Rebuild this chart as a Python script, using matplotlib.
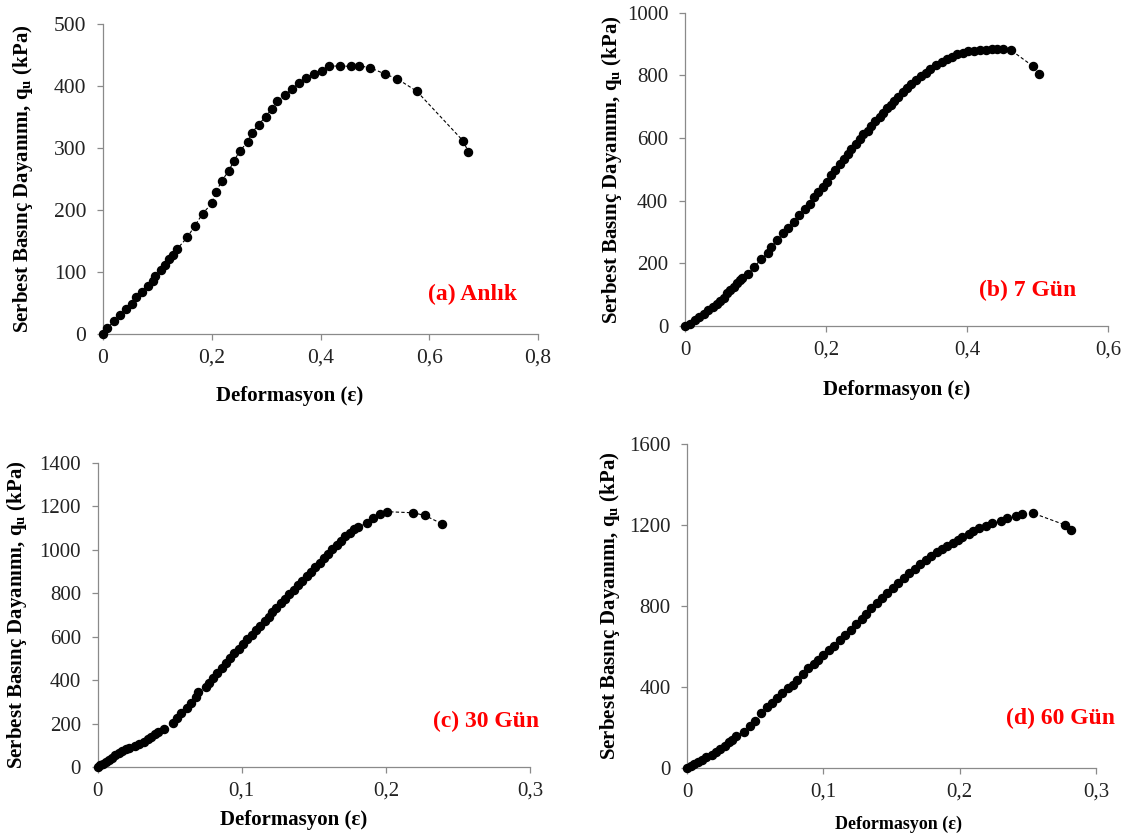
import numpy as np
import matplotlib.pyplot as plt
from matplotlib.ticker import FuncFormatter, MultipleLocator

plt.rcParams['font.family'] = ['Liberation Serif', 'DejaVu Serif']
plt.rcParams['mathtext.fontset'] = 'custom'
plt.rcParams['mathtext.rm'] = 'Liberation Serif'
plt.rcParams['mathtext.bf'] = 'Liberation Serif:bold'

# (a) Anlık
eps_a = [0, 0.008, 0.021, 0.032, 0.042, 0.053, 0.061, 0.071, 0.082, 0.091, 0.096,
         0.107, 0.114, 0.122, 0.129, 0.136, 0.155, 0.169, 0.183, 0.200, 0.208,
         0.218, 0.231, 0.241, 0.252, 0.266, 0.274, 0.286, 0.299, 0.310, 0.320,
         0.335, 0.348, 0.360, 0.374, 0.388, 0.402, 0.415, 0.435, 0.456, 0.471,
         0.491, 0.518, 0.541, 0.577, 0.662, 0.672]
qu_a = [0, 10, 21, 31, 40, 49, 59, 68, 78, 86, 94,
        104, 112, 121, 128, 137, 156, 175, 194, 211, 229,
        247, 263, 280, 296, 310, 325, 338, 351, 363, 376,
        386, 396, 406, 413, 420, 425, 432, 433, 432, 433,
        430, 420, 412, 392, 312, 294]

# (b) 7 Gün
eps_b = [0, 0.0066, 0.014, 0.020, 0.027, 0.033, 0.040, 0.045, 0.050, 0.055, 0.060,
         0.064, 0.069, 0.074, 0.078, 0.081, 0.090, 0.098, 0.108, 0.117, 0.122,
         0.131, 0.139, 0.146, 0.154, 0.161, 0.170, 0.177, 0.183, 0.189, 0.196,
         0.201, 0.207, 0.213, 0.220, 0.226, 0.231, 0.236, 0.242, 0.248, 0.253,
         0.259, 0.264, 0.270, 0.276, 0.281, 0.286, 0.292, 0.297, 0.302, 0.309,
         0.315, 0.321, 0.328, 0.335, 0.342, 0.348, 0.356, 0.364, 0.371, 0.379,
         0.386, 0.394, 0.402, 0.410, 0.418, 0.427, 0.435, 0.442, 0.451, 0.462,
         0.493, 0.502]
qu_b = [0, 8, 19, 30, 40, 51, 62, 70, 81, 90, 104,
        115, 126, 136, 147, 152, 166, 189, 213, 232, 253,
        274, 296, 312, 333, 354, 372, 391, 411, 429, 445,
        461, 482, 498, 516, 532, 549, 565, 581, 596, 612,
        623, 638, 653, 666, 679, 695, 705, 719, 732, 748,
        761, 774, 785, 798, 809, 819, 833, 844, 852, 860,
        867, 873, 877, 878, 880, 881, 883, 884, 884, 881,
        830, 803]

# (c) 30 Gün
eps_c = [0, 0.002, 0.004, 0.006, 0.008, 0.010, 0.012, 0.015, 0.017, 0.020, 0.022,
         0.026, 0.029, 0.032, 0.035, 0.037, 0.040, 0.042, 0.046, 0.052, 0.055,
         0.058, 0.062, 0.065, 0.068, 0.070, 0.075, 0.077, 0.080, 0.083, 0.086,
         0.089, 0.092, 0.095, 0.098, 0.101, 0.104, 0.107, 0.110, 0.113, 0.116,
         0.119, 0.121, 0.124, 0.127, 0.130, 0.133, 0.136, 0.139, 0.142, 0.145,
         0.148, 0.151, 0.154, 0.157, 0.160, 0.163, 0.166, 0.169, 0.172, 0.175,
         0.178, 0.181, 0.187, 0.191, 0.196, 0.201, 0.219, 0.227, 0.239]
qu_c = [0, 8, 15, 23, 34, 43, 54, 65, 74, 82, 89,
        97, 108, 117, 128, 138, 151, 162, 177, 203, 226,
        251, 274, 297, 323, 346, 369, 389, 412, 435, 458,
        480, 503, 523, 545, 566, 588, 608, 629, 651, 671,
        692, 712, 734, 754, 775, 795, 817, 837, 858, 878,
        900, 920, 942, 962, 982, 1002, 1022, 1042, 1062, 1080,
        1098, 1105, 1125, 1145, 1164, 1176, 1171, 1159, 1120]

# (d) 60 Gün
eps_d = [0, 0.0026, 0.005, 0.008, 0.011, 0.014, 0.018, 0.021, 0.024, 0.028, 0.031,
         0.033, 0.036, 0.042, 0.046, 0.050, 0.054, 0.059, 0.062, 0.066, 0.070,
         0.074, 0.078, 0.081, 0.085, 0.089, 0.093, 0.096, 0.100, 0.104, 0.108,
         0.112, 0.116, 0.120, 0.124, 0.128, 0.131, 0.135, 0.139, 0.143, 0.147,
         0.151, 0.155, 0.159, 0.163, 0.167, 0.171, 0.175, 0.179, 0.183, 0.187,
         0.191, 0.195, 0.199, 0.202, 0.207, 0.210, 0.214, 0.219, 0.224, 0.230,
         0.235, 0.241, 0.246, 0.254, 0.277, 0.282]
qu_d = [0, 8, 20, 30, 41, 53, 66, 79, 94, 110, 127,
        140, 156, 178, 206, 230, 271, 301, 321, 345, 370,
        395, 411, 436, 464, 493, 513, 535, 559, 584, 605,
        633, 658, 683, 711, 735, 762, 788, 814, 839, 864,
        888, 913, 938, 962, 985, 1008, 1028, 1048, 1066, 1081,
        1097, 1113, 1127, 1140, 1155, 1168, 1184, 1196, 1209, 1222,
        1234, 1245, 1253, 1258, 1201, 1176]

panels = [
    # eps, qu, rect, xmax, xstep, ymax, ystep, tag, tag pos, ylabel offset px,
    # xlabel pad, xlabel size, tick size, xlabel x (axes fraction)
    (eps_a, qu_a, [0.0907, 0.6005, 0.3829, 0.3704], 0.8, 0.2, 500, 100, '(a) Anlık', (0.680, 64), 80, 13.5, 15, 15.5, 0.428),
    (eps_b, qu_b, [0.6030, 0.6100, 0.3724, 0.3748], 0.6, 0.2, 1000, 200, '(b) 7 Gün', (0.4865, 112), 73, 14.5, 15, 15, 0.5),
    (eps_c, qu_c, [0.0859, 0.0825, 0.3806, 0.3636], 0.3, 0.1, 1400, 200, '(c) 30 Gün', (0.2695, 208), 81, 6.5, 15, 15, 0.454),
    (eps_d, qu_d, [0.6048, 0.0813, 0.3600, 0.3876], 0.3, 0.1, 1600, 400, '(d) 60 Gün', (0.2736, 247), 77, 10, 13, 15, 0.516),
]

comma = FuncFormatter(lambda v, p: ('%g' % round(v, 3)).replace('.', ','))

fig = plt.figure(figsize=(11.36, 8.36), dpi=100)

for eps, qu, rect, xmax, xstep, ymax, ystep, tag, tpos, yoff, xpad, xls, tks, xlx in panels:
    ax = fig.add_axes(rect)
    ax.plot(eps, qu, color='black', linestyle=(0, (3, 2)), linewidth=0.8,
            marker='o', markersize=5.8, markerfacecolor='black', markeredgecolor='black',
            clip_on=False, zorder=3)
    ax.set_xlim(0, xmax)
    ax.set_ylim(0, ymax)
    ax.xaxis.set_major_locator(MultipleLocator(xstep))
    ax.yaxis.set_major_locator(MultipleLocator(ystep))
    ax.xaxis.set_major_formatter(comma)
    for s in ['top', 'right']:
        ax.spines[s].set_visible(False)
    for s in ['left', 'bottom']:
        ax.spines[s].set_color('#8a8a8a')
        ax.spines[s].set_linewidth(0.9)
    ax.tick_params(direction='out', length=4, width=0.9, color='#8a8a8a',
                   labelsize=tks, labelcolor='#222222')
    ax.tick_params(axis='x', pad=6.5)
    ax.tick_params(axis='y', pad=8)
    ax.set_xlabel('Deformasyon (ε)', fontsize=xls, fontweight='bold', labelpad=xpad)
    ax.xaxis.label.set_x(xlx)
    ax.set_ylabel(r'Serbest Basınç Dayanımı, q$_{\mathbf{u}}$ (kPa)', fontsize=15,
                  fontweight='bold', va='center')
    wpx = rect[2] * 1136
    ax.yaxis.set_label_coords(-yoff / wpx, 0.5)
    ax.text(tpos[0], tpos[1], tag, color='red', fontsize=17, fontweight='bold',
            ha='center', va='center')

fig.savefig('out.png', dpi=100)
